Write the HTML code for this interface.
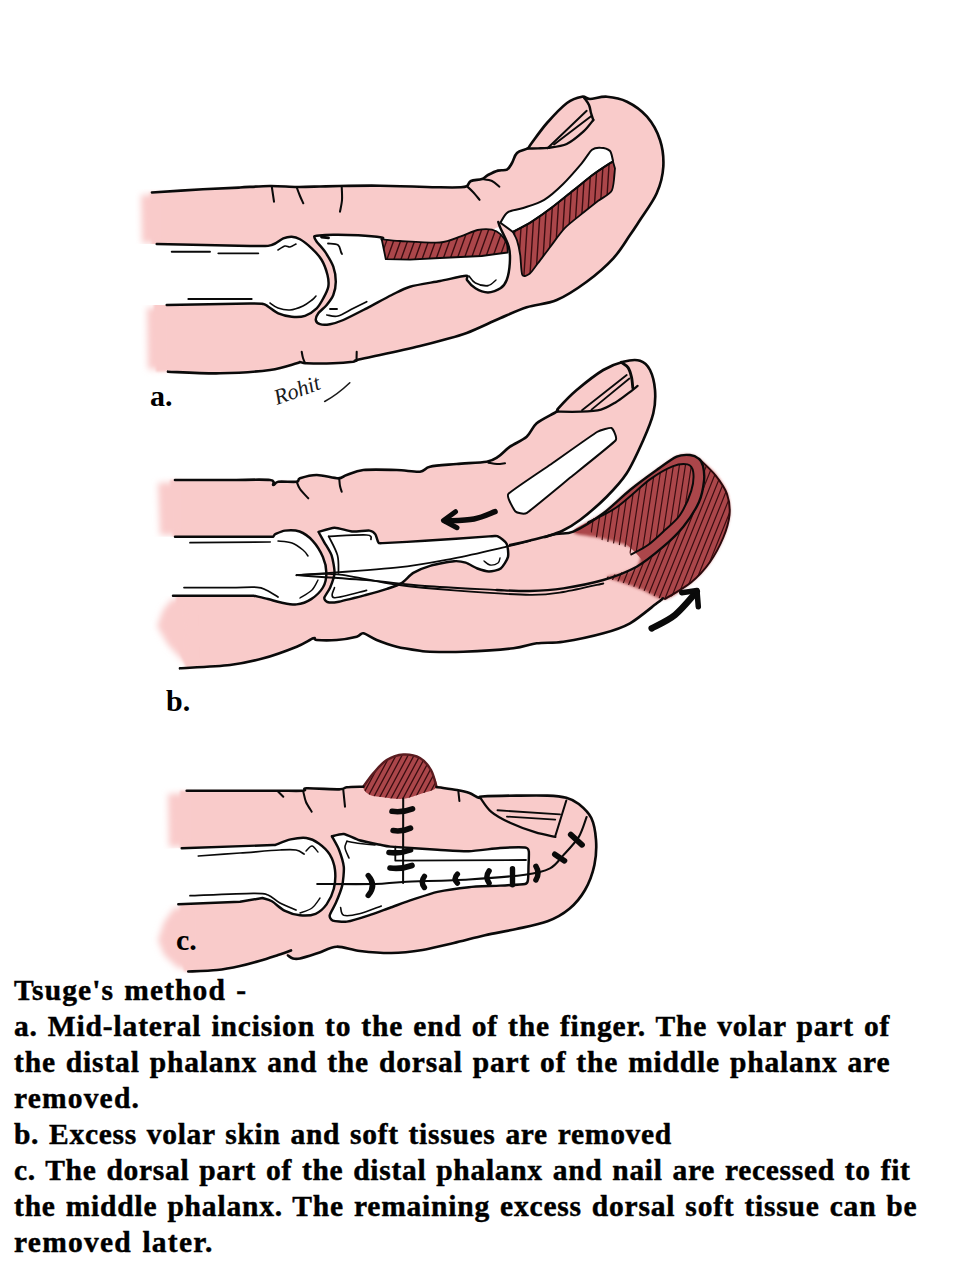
<!DOCTYPE html>
<html lang="en">
<head>
<meta charset="utf-8">
<title>Tsuge's method</title>
<style>
html,body{margin:0;padding:0;background:#fff;}
body{width:960px;height:1280px;position:relative;overflow:hidden;}
#art{position:absolute;left:0;top:0;width:960px;height:1280px;display:block;}
#cap{position:absolute;left:14px;top:972px;width:946px;margin:0;
 font-family:"Liberation Serif","Times New Roman",serif;font-weight:bold;
 font-size:29.5px;line-height:36px;word-spacing:1.8px;color:#000;white-space:nowrap;-webkit-text-stroke:0.45px #000;letter-spacing:0px;}
#cap span{display:block;}
.lbl{font-family:"Liberation Serif","Times New Roman",serif;font-weight:bold;font-size:30px;fill:#000;}
</style>
</head>
<body>
<svg id="art" viewBox="0 0 960 1280" width="960" height="1280">
<!-- ART -->
<defs>
<filter id="soft" x="-10%" y="-10%" width="120%" height="120%"><feGaussianBlur stdDeviation="1.6"/></filter>
<filter id="softp" x="-5%" y="-5%" width="110%" height="110%"><feGaussianBlur stdDeviation="1.3"/></filter>
<filter id="softL" x="-30%" y="-10%" width="160%" height="120%"><feGaussianBlur stdDeviation="3.2"/></filter>
</defs>
<path d="M150 192.5C150.3 192.5 143.2 193 152 192.5C160.8 192 188.3 190.1 203 189.3C217.7 188.5 228.8 188.1 240 187.5C251.2 186.9 260.5 186.1 270 186C279.5 185.9 288.7 186.9 297 187C305.3 187.1 312.8 186.7 320 186.5C327.2 186.3 330 186.1 340 186C350 185.9 363.3 185.5 380 185.7C396.7 185.9 426.5 187 440 187.3C453.5 187.6 456.5 187.5 461 187.3C465.5 187.1 465.3 187.1 467 186C468.7 184.9 468.5 182.2 471 181C473.5 179.8 479.2 180 482 179C484.8 178 485.3 176.4 488 175C490.7 173.6 494.8 171.5 498 170.6C501.2 169.7 504.7 170.9 507 169.6C509.3 168.3 510.3 165.8 512 163C513.7 160.2 514.4 155.4 517 153C519.6 150.6 525.2 150 527.5 148.5C529.8 147 527.8 148.2 531 144C534.2 139.8 541 129.8 547 123C553 116.2 561.2 107.4 567 103C572.8 98.6 578.2 97.4 582 96.7C585.8 96 585.8 99 590 99C594.2 99 600.8 96.2 607 96.7C613.2 97.2 620.3 98.4 627 101.7C633.7 105 641.5 110.3 647 116.7C652.5 123.1 657.3 131.7 660 140C662.7 148.3 663.8 157.8 663.3 166.7C662.8 175.6 660.6 184.4 656.7 193.3C652.8 202.2 644.5 213.1 640 220C635.5 226.9 634.5 228.6 630 235C625.5 241.4 620.5 250.5 613.3 258.3C606.1 266.1 596.1 274.8 586.7 281.7C577.3 288.6 566.7 295.7 556.7 300C546.7 304.3 536.2 304.2 526.7 307.3C517.2 310.4 510 314 500 318.3C490 322.6 476.2 329.4 466.7 333C457.2 336.6 450.8 337.8 443 340C435.2 342.2 430.5 343.5 420 346C409.5 348.5 390.5 352.7 380 355C369.5 357.3 361.5 358.9 357 360C352.5 361.1 357 361.1 353 361.7C349 362.2 340.7 363 333 363.3C325.3 363.6 312.2 363.5 306.7 363.3C301.2 363.1 301.7 362 300 362C298.3 362 301.7 362 296.7 363.3C291.7 364.6 282.8 368.3 270 370C257.2 371.7 237 373 220 373.3C203 373.6 178.7 372 168 371.7C157.3 371.4 158 371.7 156 371.7Z" fill="#f9cbca" stroke="none" filter="url(#softp)"/>
<path d="M141 195L160 194L160 243L142 243Z" fill="#f9cbca" stroke="none" filter="url(#softL)"/>
<path d="M147 308L166 307L166 370L148 369Z" fill="#f9cbca" stroke="none" filter="url(#softL)"/>
<path d="M128 244L156.7 244C170.7 244.3 232.8 245.8 250 246C267.2 246.2 266.7 246.2 271.7 245C276.7 243.8 280.3 239.5 283.3 238.3C286.3 237.1 289.2 236.6 291.7 236.7C294.2 236.8 297 237.5 300 239.2C303 240.9 308.4 245.2 311.7 248.3C315 251.4 319.3 256 321.7 260C324.1 264 326.5 271 327.5 275C328.5 279 328.9 283.2 328.3 286.7C327.7 290.2 325 295.1 323.3 298.3C321.6 301.5 319.4 305.7 316.7 308.3C314 310.9 308.8 314.5 305 315.8C301.2 317.1 295.7 317.1 291.7 316.7C287.7 316.3 281.8 314.8 278.3 313.3C274.8 311.8 270.6 308.1 268.3 306.7C266.1 305.3 266 304.5 263.3 304C260.6 303.5 264.5 303.4 250 303.5C235.5 303.6 179.2 304.8 166.7 305L128 305Z" fill="#fff" stroke="none" />
<path d="M314.2 236.7C314.2 235.9 314 236.1 316.7 235.8C319.4 235.5 327.5 234.8 333.3 234.7C339.1 234.6 351.5 234.9 358.3 235.3C365.1 235.7 375.9 236.7 381.7 237.5C387.5 238.3 391.8 240.3 400 241C408.2 241.7 431.5 243.2 440 242.5C448.5 241.8 455.6 238.1 460.8 236.3C466.1 234.6 473.1 230.9 477.5 230C481.9 229.1 488.8 229.9 492 229.6C495.2 229.3 498 225.6 500.4 228C502.8 230.4 507.5 241.8 508.8 246.7C510.1 251.6 510.1 258.6 509.8 263.3C509.5 268 508 276.5 506.7 280C505.4 283.5 503 286.6 500.4 288.3C497.8 290.1 491.5 292.5 488 292.5C484.5 292.5 478.3 290.1 475.4 288.3C472.5 286.6 468.3 281.8 467 280C465.7 278.2 469.8 275.7 466 275.8C462.2 275.9 447.8 279.5 440 281C432.2 282.5 416.8 284.7 410 286.7C403.2 288.7 397.8 292 391.7 295C385.6 298 373.5 304.8 366.7 308.3C359.9 311.8 348.4 317.8 343.3 320C338.2 322.2 333.3 323.6 330 324.2C326.7 324.8 322 324.8 320 324.2C318 323.6 316 321.5 315.8 320C315.6 318.5 316.8 315.4 318.3 313.3C319.8 311.2 324.6 307.6 326.7 305C328.8 302.4 332 298.3 333.3 295C334.6 291.7 335.8 285.7 335.8 281.7C335.8 277.7 334.8 270.9 333.3 266.7C331.8 262.5 327.3 255.2 325 251.7C322.7 248.2 318.2 243.8 316.7 241.7C315.2 239.6 314.2 237.5 314.2 236.7Z" fill="#fff" stroke="none" />
<path d="M500.4 222.7C501.5 221.1 504.3 214.5 507.7 212.3C511.1 210.1 517.8 209.9 523.3 208C528.8 206.1 538.3 203.4 544.2 199.8C550.1 196.2 557.3 189.7 562.9 184.2C568.5 178.7 577.3 168.5 581.7 163.3C586.1 158.1 589.2 152.1 592 149.8C594.8 147.5 597.7 147.5 600.4 147.7C603.1 147.8 607.9 148.9 609.8 150.8C611.7 152.7 612.4 158.8 612.9 160.2L612.9 161.3C610.1 163.2 600.1 169.4 594.2 173.8C588.3 178.2 579.6 185.4 573.3 190.4C567 195.4 558.7 202.3 552.5 207C546.3 211.7 537.6 217.9 531.7 221.7C525.8 225.4 515.7 230.5 512.9 232Z" fill="#fff" stroke="none" />
<path d="M381.7 239.2C384.1 239.4 392.2 240.6 400 241C407.8 241.4 431.9 243.1 440 242.5C448.1 241.9 455.8 238 460.8 236.3C465.8 234.6 473.3 230.9 477.5 230C481.7 229.1 488.9 229 492 229.6C495.1 230.2 498.4 232.3 500.4 234.2C502.4 236.1 505.7 241.1 506.7 243.5C507.7 245.9 507.6 251.3 507.7 252.5L507.7 252.5L481.7 256L440 258L410 259.7L385.8 259.2Z" fill="#ab464a" stroke="none" />
<clipPath id="hA1"><path d="M381.7 239.2C384.1 239.4 392.2 240.6 400 241C407.8 241.4 431.9 243.1 440 242.5C448.1 241.9 455.8 238 460.8 236.3C465.8 234.6 473.3 230.9 477.5 230C481.7 229.1 488.9 229 492 229.6C495.1 230.2 498.4 232.3 500.4 234.2C502.4 236.1 505.7 241.1 506.7 243.5C507.7 245.9 507.6 251.3 507.7 252.5L507.7 252.5L481.7 256L440 258L410 259.7L385.8 259.2Z"/></clipPath>
<g clip-path="url(#hA1)" stroke="#3a0d10" stroke-width="1.4" stroke-linecap="round" fill="none">
<path d="M372 262L385 226M379 262L392 226M386 262L399 226M393 262L406 226M400 262L413 226M407 262L420 226M414 262L427 226M421 262L434 226M428 262L441 226M435 262L448 226M442 262L455 226M449 262L462 226M456 262L469 226M463 262L476 226M470 262L483 226M477 262L490 226M484 262L497 226M491 262L504 226M498 262L511 226M505 262L518 226M512 262L525 226M519 262L532 226"/>
</g>
<path d="M381.7 239.2C384.1 239.4 392.2 240.6 400 241C407.8 241.4 431.9 243.1 440 242.5C448.1 241.9 455.8 238 460.8 236.3C465.8 234.6 473.3 230.9 477.5 230C481.7 229.1 488.9 229 492 229.6C495.1 230.2 498.4 232.3 500.4 234.2C502.4 236.1 505.7 241.1 506.7 243.5C507.7 245.9 507.6 251.3 507.7 252.5L507.7 252.5L481.7 256L440 258L410 259.7L385.8 259.2Z" fill="none" stroke="#0a0a0a" stroke-width="1.8" stroke-linecap="round" stroke-linejoin="round" />
<path d="M512.9 232C515.7 230.5 525.8 225.4 531.7 221.7C537.6 217.9 546.3 211.7 552.5 207C558.7 202.3 567 195.4 573.3 190.4C579.6 185.4 588.3 178.2 594.2 173.8C600.1 169.4 610.1 163.2 612.9 161.3L615 168.5C614.6 171.4 614.1 186.1 611.9 190.4C609.7 194.7 602 197.9 598.3 200.8C594.6 203.7 588.2 208.7 583.8 212.3C579.4 215.9 569.5 223.3 565 227.9C560.5 232.5 554 242 550.4 246.7C546.8 251.4 540.7 259.7 537.9 263.3C535.1 266.9 531.7 272.3 529.6 273.8C527.5 275.3 523.6 277.3 522.3 274.8C521 272.3 520.9 259.6 520.2 255C519.5 250.4 518 243.5 517 240.4C516 237.3 513.4 233.1 512.9 232Z" fill="#ab464a" stroke="none" />
<clipPath id="hA2"><path d="M512.9 232C515.7 230.5 525.8 225.4 531.7 221.7C537.6 217.9 546.3 211.7 552.5 207C558.7 202.3 567 195.4 573.3 190.4C579.6 185.4 588.3 178.2 594.2 173.8C600.1 169.4 610.1 163.2 612.9 161.3L615 168.5C614.6 171.4 614.1 186.1 611.9 190.4C609.7 194.7 602 197.9 598.3 200.8C594.6 203.7 588.2 208.7 583.8 212.3C579.4 215.9 569.5 223.3 565 227.9C560.5 232.5 554 242 550.4 246.7C546.8 251.4 540.7 259.7 537.9 263.3C535.1 266.9 531.7 272.3 529.6 273.8C527.5 275.3 523.6 277.3 522.3 274.8C521 272.3 520.9 259.6 520.2 255C519.5 250.4 518 243.5 517 240.4C516 237.3 513.4 233.1 512.9 232Z"/></clipPath>
<g clip-path="url(#hA2)" stroke="#3a0d10" stroke-width="1.4" stroke-linecap="round" fill="none">
<path d="M505 290L514 150M511 290L520 150M517 290L526 150M523 290L532 150M529 290L538 150M535 290L544 150M541 290L550 150M547 290L556 150M553 290L562 150M559 290L568 150M565 290L574 150M571 290L580 150M577 290L586 150M583 290L592 150M589 290L598 150M595 290L604 150M601 290L610 150M607 290L616 150M613 290L622 150M619 290L628 150"/>
</g>
<path d="M512.9 232C515.7 230.5 525.8 225.4 531.7 221.7C537.6 217.9 546.3 211.7 552.5 207C558.7 202.3 567 195.4 573.3 190.4C579.6 185.4 588.3 178.2 594.2 173.8C600.1 169.4 610.1 163.2 612.9 161.3L615 168.5C614.6 171.4 614.1 186.1 611.9 190.4C609.7 194.7 602 197.9 598.3 200.8C594.6 203.7 588.2 208.7 583.8 212.3C579.4 215.9 569.5 223.3 565 227.9C560.5 232.5 554 242 550.4 246.7C546.8 251.4 540.7 259.7 537.9 263.3C535.1 266.9 531.7 272.3 529.6 273.8C527.5 275.3 523.6 277.3 522.3 274.8C521 272.3 520.9 259.6 520.2 255C519.5 250.4 518 243.5 517 240.4C516 237.3 513.4 233.1 512.9 232Z" fill="none" stroke="#0a0a0a" stroke-width="1.8" stroke-linecap="round" stroke-linejoin="round" />
<path d="M152 192.5C160.5 192 188.3 190.1 203 189.3C217.7 188.5 228.8 188.1 240 187.5C251.2 186.9 260.5 186.1 270 186C279.5 185.9 288.7 186.9 297 187C305.3 187.1 312.8 186.7 320 186.5C327.2 186.3 330 186.1 340 186C350 185.9 363.3 185.5 380 185.7C396.7 185.9 426.5 187 440 187.3C453.5 187.6 456.5 187.5 461 187.3C465.5 187.1 465.3 187.1 467 186C468.7 184.9 468.5 182.2 471 181C473.5 179.8 479.2 180 482 179C484.8 178 485.3 176.4 488 175C490.7 173.6 494.8 171.5 498 170.6C501.2 169.7 504.7 170.9 507 169.6C509.3 168.3 510.3 165.8 512 163C513.7 160.2 514.4 155.4 517 153C519.6 150.6 525.2 150 527.5 148.5C529.8 147 527.8 148.2 531 144C534.2 139.8 541 129.8 547 123C553 116.2 561.2 107.4 567 103C572.8 98.6 578.2 97.4 582 96.7C585.8 96 585.8 99 590 99C594.2 99 600.8 96.2 607 96.7C613.2 97.2 620.3 98.4 627 101.7C633.7 105 641.5 110.3 647 116.7C652.5 123.1 657.3 131.7 660 140C662.7 148.3 663.8 157.8 663.3 166.7C662.8 175.6 660.6 184.4 656.7 193.3C652.8 202.2 644.5 213.1 640 220C635.5 226.9 634.5 228.6 630 235C625.5 241.4 620.5 250.5 613.3 258.3C606.1 266.1 596.1 274.8 586.7 281.7C577.3 288.6 566.7 295.7 556.7 300C546.7 304.3 536.2 304.2 526.7 307.3C517.2 310.4 510 314 500 318.3C490 322.6 476.2 329.4 466.7 333C457.2 336.6 450.8 337.8 443 340C435.2 342.2 430.5 343.5 420 346C409.5 348.5 390.5 352.7 380 355C369.5 357.3 361.5 358.9 357 360C352.5 361.1 357 361.1 353 361.7C349 362.2 340.7 363 333 363.3C325.3 363.6 312.2 363.5 306.7 363.3C301.2 363.1 301.7 362 300 362C298.3 362 301.7 362 296.7 363.3C291.7 364.6 282.8 368.3 270 370C257.2 371.7 237 373 220 373.3C203 373.6 176.7 372 168 371.7" fill="none" stroke="#0a0a0a" stroke-width="2.65" stroke-linecap="round" stroke-linejoin="round" />
<path d="M156.7 244C170.7 244.3 232.8 245.8 250 246C267.2 246.2 266.7 246.2 271.7 245C276.7 243.8 280.3 239.5 283.3 238.3C286.3 237.1 289.2 236.6 291.7 236.7C294.2 236.8 297 237.5 300 239.2C303 240.9 308.4 245.2 311.7 248.3C315 251.4 319.3 256 321.7 260C324.1 264 326.5 271 327.5 275C328.5 279 328.9 283.2 328.3 286.7C327.7 290.2 325 295.1 323.3 298.3C321.6 301.5 319.4 305.7 316.7 308.3C314 310.9 308.8 314.5 305 315.8C301.2 317.1 295.7 317.1 291.7 316.7C287.7 316.3 281.8 314.8 278.3 313.3C274.8 311.8 270.6 308.1 268.3 306.7C266.1 305.3 266 304.5 263.3 304C260.6 303.5 264.5 303.4 250 303.5C235.5 303.6 179.2 304.8 166.7 305" fill="none" stroke="#0a0a0a" stroke-width="2.45" stroke-linecap="round" stroke-linejoin="round" />
<path d="M171.7 251.7L210 251.7" fill="none" stroke="#0a0a0a" stroke-width="1.85" stroke-linecap="round" stroke-linejoin="round" />
<path d="M218.3 253.3L258.3 253.3" fill="none" stroke="#0a0a0a" stroke-width="1.85" stroke-linecap="round" stroke-linejoin="round" />
<path d="M188.3 299L251.7 299" fill="none" stroke="#0a0a0a" stroke-width="1.85" stroke-linecap="round" stroke-linejoin="round" />
<path d="M278 250C279.2 249.3 283 246.5 285 246C287 245.5 288.2 247.3 290 247C291.8 246.7 295 244.5 296 244" fill="none" stroke="#0a0a0a" stroke-width="1.6" stroke-linecap="round" stroke-linejoin="round" />
<path d="M270 303C271.3 303.8 274.7 306.8 278 308C281.3 309.2 285.8 310.3 290 310C294.2 309.7 299.3 307.7 303 306C306.7 304.3 309.8 301.7 312 300C314.2 298.3 315.3 296.7 316 296" fill="none" stroke="#0a0a0a" stroke-width="1.6" stroke-linecap="round" stroke-linejoin="round" />
<path d="M381.7 239.2C381.7 239 385 238 381.7 237.5C378.4 237 365.1 235.7 358.3 235.3C351.5 234.9 339.1 234.6 333.3 234.7C327.5 234.8 319.4 235.5 316.7 235.8C314 236.1 314.2 235.9 314.2 236.7C314.2 237.5 315.2 239.6 316.7 241.7C318.2 243.8 322.7 248.2 325 251.7C327.3 255.2 331.8 262.5 333.3 266.7C334.8 270.9 335.8 277.7 335.8 281.7C335.8 285.7 334.6 291.7 333.3 295C332 298.3 328.8 302.4 326.7 305C324.6 307.6 319.8 311.2 318.3 313.3C316.8 315.4 315.6 318.5 315.8 320C316 321.5 318 323.6 320 324.2C322 324.8 326.7 324.8 330 324.2C333.3 323.6 338.2 322.2 343.3 320C348.4 317.8 359.9 311.8 366.7 308.3C373.5 304.8 385.6 298 391.7 295C397.8 292 403.2 288.7 410 286.7C416.8 284.7 432.2 282.5 440 281C447.8 279.5 462.2 275.9 466 275.8C469.8 275.7 465.7 278.2 467 280C468.3 281.8 472.5 286.6 475.4 288.3C478.3 290.1 484.5 292.5 488 292.5C491.5 292.5 497.8 290.1 500.4 288.3C503 286.6 505.4 283.5 506.7 280C508 276.5 509.5 268 509.8 263.3C510.1 258.6 510.1 251.6 508.8 246.7C507.5 241.8 501.9 231.5 500.4 228C498.9 224.5 498.6 222.8 498.3 222" fill="none" stroke="#0a0a0a" stroke-width="2.45" stroke-linecap="round" stroke-linejoin="round" />
<path d="M321.5 237L328.5 237.8" fill="none" stroke="#0a0a0a" stroke-width="2.85" stroke-linecap="round" stroke-linejoin="round" />
<path d="M328 243.5C329.7 243.8 335.8 243.6 338 245C340.2 246.4 340.3 250.5 341 252C341.7 253.5 341.8 253.7 342 254" fill="none" stroke="#0a0a0a" stroke-width="1.85" stroke-linecap="round" stroke-linejoin="round" />
<path d="M330 309L337 309" fill="none" stroke="#0a0a0a" stroke-width="1.85" stroke-linecap="round" stroke-linejoin="round" />
<path d="M327 315C328.8 315.2 333.7 317.1 338 316C342.3 314.9 348.2 310.9 353 308.5C357.8 306.1 364.4 302.8 366.7 301.7" fill="none" stroke="#0a0a0a" stroke-width="1.75" stroke-linecap="round" stroke-linejoin="round" />
<path d="M469 276C470.1 277.2 472.2 281.4 475.4 283C478.6 284.6 484.6 286 488 285.5C491.4 285 494.7 280.9 496 280" fill="none" stroke="#0a0a0a" stroke-width="1.5" stroke-linecap="round" stroke-linejoin="round" />
<path d="M480.5 285.3L488 285.8" fill="none" stroke="#0a0a0a" stroke-width="1.4" stroke-linecap="round" stroke-linejoin="round" />
<path d="M500.4 222.7C501.5 221.1 504.3 214.5 507.7 212.3C511.1 210.1 517.8 209.9 523.3 208C528.8 206.1 538.3 203.4 544.2 199.8C550.1 196.2 557.3 189.7 562.9 184.2C568.5 178.7 577.3 168.5 581.7 163.3C586.1 158.1 589.2 152.1 592 149.8C594.8 147.5 597.7 147.5 600.4 147.7C603.1 147.8 607.9 148.9 609.8 150.8C611.7 152.7 612.4 158.8 612.9 160.2L612.9 161.3C610.1 163.2 600.1 169.4 594.2 173.8C588.3 178.2 579.6 185.4 573.3 190.4C567 195.4 558.7 202.3 552.5 207C546.3 211.7 537.6 217.9 531.7 221.7C525.8 225.4 515.7 230.5 512.9 232Z" fill="none" stroke="#0a0a0a" stroke-width="2" stroke-linecap="round" stroke-linejoin="round" />
<path d="M271.7 186L274 201.7" fill="none" stroke="#0a0a0a" stroke-width="2.05" stroke-linecap="round" stroke-linejoin="round" />
<path d="M296.7 187.3C297.2 188.8 298.9 193.3 300 196C301.1 198.7 302.8 202.1 303.3 203.3" fill="none" stroke="#0a0a0a" stroke-width="2.05" stroke-linecap="round" stroke-linejoin="round" />
<path d="M341.7 186.7C341.8 188.9 342.3 195.8 342 200C341.7 204.2 340.3 209.8 340 211.7" fill="none" stroke="#0a0a0a" stroke-width="2.05" stroke-linecap="round" stroke-linejoin="round" />
<path d="M467 186.3C468 187.2 470.9 189.8 473 192C475.1 194.2 478.5 198.5 479.6 199.8" fill="none" stroke="#0a0a0a" stroke-width="2.05" stroke-linecap="round" stroke-linejoin="round" />
<path d="M482 179C483.7 179.3 489.1 179.7 492 181C494.9 182.3 498.2 185.8 499.4 186.7" fill="none" stroke="#0a0a0a" stroke-width="2.05" stroke-linecap="round" stroke-linejoin="round" />
<path d="M301.7 351.7C301.9 352.8 302.4 356.1 303 358C303.6 359.9 304.7 362.4 305 363.3" fill="none" stroke="#0a0a0a" stroke-width="2.05" stroke-linecap="round" stroke-linejoin="round" />
<path d="M356.7 351.7L356.5 361" fill="none" stroke="#0a0a0a" stroke-width="2.05" stroke-linecap="round" stroke-linejoin="round" />
<path d="M527.5 148.5C529.1 148.5 534.9 148.4 538 148.3C541.1 148.2 544 148.4 548.3 147.8C552.6 147.2 561.5 146.4 566.7 144C572 141.6 579.3 135.3 583.3 131.7C587.3 128.1 591.8 121.8 593.3 120" fill="none" stroke="#0a0a0a" stroke-width="2.35" stroke-linecap="round" stroke-linejoin="round" />
<path d="M584 97.5C584.8 98.8 587.8 102.4 589 105C590.2 107.6 590.3 110.5 591 113C591.7 115.5 592.9 118.8 593.3 120" fill="none" stroke="#0a0a0a" stroke-width="2.45" stroke-linecap="round" stroke-linejoin="round" />
<path d="M547.5 148.3L586.7 110.8" fill="none" stroke="#0a0a0a" stroke-width="1.95" stroke-linecap="round" stroke-linejoin="round" />
<path d="M554 144.5L591.7 115.8" fill="none" stroke="#0a0a0a" stroke-width="1.95" stroke-linecap="round" stroke-linejoin="round" />
<text class="lbl" x="150" y="406">a.</text>
<g transform="translate(277,405) rotate(-20)"><text x="0" y="0" font-family="'Liberation Serif',serif" font-style="italic" font-size="22" fill="#1a1a1a">Rohit</text><path d="M46 13Q60 11 76 4" stroke="#1a1a1a" stroke-width="1.6" fill="none" stroke-linecap="round"/></g>
<path d="M170 480C170.8 480 166 480 175 480C184 480 215.8 480 230 480C244.2 480 263.5 479.2 270 480C276.5 480.8 272.1 484.7 273.3 485C274.5 485.3 274.8 482.2 278.3 481.7C281.8 481.2 293.4 482.2 296.7 481.7C300 481.2 297 479.3 300 478.3C303 477.3 311 475 316.7 475C322.4 475 333.8 478.3 338.3 478.3C342.8 478.3 342.9 476.2 346.7 475C350.4 473.8 355.8 470.8 363.3 470C370.8 469.2 388.2 469.7 396.7 470C405.2 470.3 415 472.2 420 471.7C425 471.2 424.5 467.9 430 466.7C435.5 465.5 448.2 464.8 456.7 464C465.2 463.2 480.5 462.8 486.7 461.7C492.9 460.6 494.8 458.9 498.3 456.7C501.8 454.4 505.7 449.7 510 446.7C514.3 443.7 522.7 440.2 526.7 436.7C530.7 433.2 532.2 427.1 536.7 423.3C541.2 419.6 553.5 413.9 556.7 411.7C559.9 409.4 555.3 411.6 558.3 408.3C561.3 405 570 395.7 576.7 390C583.5 384.3 596.3 374.2 603.3 370C610.3 365.8 617.8 363.1 623.3 361.7C628.8 360.3 636 359.5 640 360.7C644 361.9 647.8 365.6 650 370C652.2 374.4 654.5 383.5 655 390C655.5 396.5 655.1 405.8 653.3 413.3C651.5 420.8 647.3 431 643.3 440C639.3 449 632.2 464.8 626.7 473.3C621.2 481.8 613.7 489.7 606.7 496.7C599.7 503.7 586.7 514.6 580 520C573.3 525.4 563 531.2 562 533C561 534.8 567.1 534.7 573.3 531.7C579.5 528.7 594.8 519.6 603.3 513.3C611.8 507 622 496.5 630 490C638 483.5 649.7 475 656.7 470C663.7 465 671.2 458.7 676.7 456.7C682.2 454.7 687.8 454.7 693.3 456.7C698.8 458.7 708.3 465 713.3 470C718.3 475 724.2 484 726.7 490C729.2 496 730.5 503.5 730 510C729.5 516.5 726.8 524.8 723.3 533.3C719.8 541.8 712.7 558.7 706.7 566.7C700.7 574.7 690.3 582 683.3 586.7C676.3 591.4 663 596.6 660 598.3C657 600 663.5 597.5 663 598.3C662.5 599 661.7 599.5 656.7 603.3C651.8 607 638 618.8 630 623.3C622 627.8 613.3 630.5 603.3 633.3C593.3 636.1 573.3 640.2 563.3 641.7C553.3 643.2 544.2 642.3 536.7 643.3C529.2 644.3 524.3 647 513.3 648.3C502.3 649.6 475.8 651.2 463.3 651.7C450.8 652.2 436.5 651.9 430 651.7C423.5 651.6 425 651.5 420 650.7C415 650 403.2 648.3 396.7 646.7C390.2 645.1 381.7 642 376.7 640C371.7 638 366.3 633.8 363.3 633.3C360.3 632.8 360.7 635.7 356.7 636.7C352.7 637.7 342.7 639.5 336.7 640C330.7 640.5 320.2 640.3 316.7 640C313.2 639.7 316.3 637.3 313.3 638.3C310.3 639.3 304.2 643.7 296.7 646.7C289.2 649.7 273.3 655.6 263.3 658.3C253.3 661 242.5 663.5 230 665C217.5 666.5 186.6 667.8 180 668.3C173.4 668.8 185.1 668.3 186 668.3L176 640L176 600Z" fill="#f9cbca" stroke="none" filter="url(#softp)"/>
<path d="M158 483L180 482L180 535L160 535Z" fill="#f9cbca" stroke="none" filter="url(#softL)"/>
<path d="M172 599L190 599L192 664L184 662L168 645L157 626L163 610Z" fill="#f9cbca" stroke="none" filter="url(#softL)"/>
<path d="M148 536.7L273.3 536.7L274.8 534.4C276.3 533.8 281.3 531 285 530.6C288.7 530.2 295.4 530 299.6 531.5C303.8 533 309.2 537 312.7 540.8C316.2 544.6 320.8 552.1 322.9 556.9C325 561.7 326.4 568.3 326.4 572.9C326.4 577.5 325.2 583.6 322.9 587.5C320.6 591.4 315.1 596.6 311.2 599.1C307.3 601.6 301.1 603.9 296.6 604.4C292.1 604.9 285.3 603.3 281 602.5C276.7 601.7 272.1 600 268 599C263.9 598 255.8 596.2 253.7 595.7L148 595.7Z" fill="#fff" stroke="none" />
<path d="M318.5 532C319.7 530.3 330.6 527.8 334.5 527.7C338.4 527.6 347.9 531.2 352 531.5C356.1 531.8 366.8 530.3 369.5 530.6C372.2 530.9 374.4 533 375.4 534.4C376.4 535.8 377.4 541.3 378.3 542.3C379.2 543.3 377.3 543.3 382.7 543.1C388.1 542.9 412.5 541.6 424.9 540.8C437.3 540 480.5 536.9 489 536.4C497.5 535.9 495.7 535.5 497.8 536.4C499.9 537.3 505.4 541.3 506.6 543.7C507.8 546.1 508.7 554 508 556.9C507.3 559.8 502.9 566.8 500.7 568.5C498.5 570.2 491.7 571.4 489 571.4C486.3 571.4 480.1 569.5 477.4 568.5C474.7 567.5 468.4 563.6 465.7 562.7C463 561.8 458.2 560.9 454.1 561.2C450 561.5 435.6 564.2 430.8 565.6C426 567 416.7 570.9 413.3 572.9C409.9 574.9 404.7 581.2 401.6 583.1C398.5 585 391.1 587.5 387 588.9C382.9 590.3 372.4 593.3 366.6 594.8C360.8 596.3 342.1 601.2 337.5 602C332.9 602.8 328.8 602.5 327.3 602C325.8 601.5 324 599.4 324.3 597.7C324.6 596 329 590.4 330.2 587.5C331.4 584.6 334.3 576.6 334.5 572.9C334.7 569.2 332.8 559 331.6 555.4C330.4 551.8 325.8 545 324.3 542.3C322.8 539.6 317.3 533.7 318.5 532Z" fill="#fff" stroke="none" />
<path d="M508.3 494C510.5 491.1 546.7 467.2 552 463.5C557.3 459.8 593.4 434.1 597 432C600.6 429.9 610.4 427.5 611.5 428C612.6 428.5 617.9 437.6 615.5 440.5C613.1 443.4 576.3 472.7 571 477C565.7 481.3 530.3 510.7 527 512.8C523.7 514.9 516.6 512.6 515.5 511.5C514.4 510.4 506.1 496.9 508.3 494Z" fill="#fff" stroke="none" />
<path d="M573.3 531.7C574.1 528.5 595.7 518.9 603.3 513.3C610.9 507.7 622.9 495.8 630 490C637.1 484.2 650.5 474.4 656.7 470C662.9 465.6 672.3 458.7 676.7 456.7C681.1 454.7 687 454.7 690 455C693 455.3 695.6 456.1 699 458.8C702.4 461.5 712 470.9 715.7 475.6C719.4 480.3 725.2 488.7 727 494C728.8 499.3 730 509.2 729.5 515C729 520.8 725.9 531.2 723.3 537.5C720.7 543.8 714.3 556 710 562C705.7 568 697 577.6 691 582.5C685 587.4 671.5 598 665 599C658.5 600 648.2 592.2 642.5 590C636.8 587.8 626.7 584.2 622 582.5C617.3 580.8 607.3 578.1 607 577C606.7 575.9 616 575.4 620 574C624 572.6 634 569.4 636.7 566.7C639.4 564 641.5 556.9 640 554C638.5 551.1 631.3 547.2 625.6 545C619.9 542.8 604.5 539.3 597.5 537.5C590.5 535.7 572.5 534.9 573.3 531.7Z" fill="#ab464a" stroke="none" filter="url(#soft)"/>
<path d="M573.3 531.7C572.1 528.9 595.7 518.9 603.3 513.3C610.9 507.7 622.9 495.8 630 490C637.1 484.2 650.5 474.4 656.7 470C662.9 465.6 672.3 458.7 676.7 456.7C681.1 454.7 687 454.7 690 455C693 455.3 695.6 456.1 699 458.8C702.4 461.5 712 470.9 715.7 475.6C719.4 480.3 725.2 488.7 727 494C728.8 499.3 730 509.2 729.5 515C729 520.8 725.9 531.2 723.3 537.5C720.7 543.8 714.3 556 710 562C705.7 568 697 577.6 691 582.5C685 587.4 670.2 598.5 665 599C659.8 599.5 655.1 591.2 652 586C648.9 580.8 647.3 566.9 642 560C636.7 553.1 621.2 537.8 612 534C602.8 530.2 574.5 534.5 573.3 531.7Z" fill="#ab464a" stroke="none" />
<clipPath id="hB1"><path d="M588 522.5C590.5 518.4 608 513.2 616.3 507.5C624.6 501.8 642.5 484.9 650 479.4C657.5 473.9 667.5 468.3 672.5 466.3C677.5 464.3 684.7 463.7 687.5 464.4C690.3 465.1 692.7 468.4 693.2 471.9C693.7 475.4 693.1 484.9 691.3 490.6C689.5 496.3 683.5 509.7 680 515C676.5 520.3 669.3 526 665 530C660.7 534 652.5 541.7 648 545C643.5 548.3 634.3 554.1 631.3 554.4C628.3 554.7 630.1 549.2 625.6 547C621.1 544.8 602.5 541.3 597.5 538C592.5 534.7 585.5 526.6 588 522.5Z"/></clipPath>
<g clip-path="url(#hB1)" stroke="#3a0d10" stroke-width="1.2" stroke-linecap="round" fill="none">
<path d="M575 560L591 455M581 560L597 455M587 560L603 455M593 560L609 455M599 560L615 455M605 560L621 455M611 560L627 455M617 560L633 455M623 560L639 455M629 560L645 455M635 560L651 455M641 560L657 455M647 560L663 455M653 560L669 455M659 560L675 455M665 560L681 455M671 560L687 455M677 560L693 455M683 560L699 455M689 560L705 455M695 560L711 455"/>
</g>
<clipPath id="hB2"><path d="M699 458.8C700.6 460.1 712 470.9 715.7 475.6C719.4 480.3 725.2 488.7 727 494C728.8 499.3 730 509.2 729.5 515C729 520.8 725.9 531.2 723.3 537.5C720.7 543.8 714.3 556 710 562C705.7 568 697 577.6 691 582.5C685 587.4 671.5 598 665 599C658.5 600 648.2 592.2 642.5 590C636.8 587.8 626.7 584.2 622 582.5C617.3 580.8 605 579 607 577C609 575 629.2 571.4 636.7 567.5C644.2 563.6 657.1 553.3 663.3 548C669.5 542.7 678.5 534.1 683.3 528C688.1 521.9 696.6 508.3 699.5 502C702.4 495.7 704.4 485.8 705 481C705.6 476.2 704.8 469 704 466C703.2 463 697.4 457.5 699 458.8Z"/></clipPath>
<g clip-path="url(#hB2)" stroke="#3a0d10" stroke-width="1.2" stroke-linecap="round" fill="none">
<path d="M590 606L652 452M596 606L658 452M602 606L664 452M608 606L670 452M614 606L676 452M620 606L682 452M626 606L688 452M632 606L694 452M638 606L700 452M644 606L706 452M650 606L712 452M656 606L718 452M662 606L724 452M668 606L730 452M674 606L736 452M680 606L742 452M686 606L748 452M692 606L754 452M698 606L760 452"/>
</g>
<path d="M175 480C183.2 480 215.8 480 230 480C244.2 480 263.5 479.2 270 480C276.5 480.8 272.1 484.7 273.3 485C274.5 485.3 274.8 482.2 278.3 481.7C281.8 481.2 293.4 482.2 296.7 481.7C300 481.2 297 479.3 300 478.3C303 477.3 311 475 316.7 475C322.4 475 333.8 478.3 338.3 478.3C342.8 478.3 342.9 476.2 346.7 475C350.4 473.8 355.8 470.8 363.3 470C370.8 469.2 388.2 469.7 396.7 470C405.2 470.3 415 472.2 420 471.7C425 471.2 424.5 467.9 430 466.7C435.5 465.5 448.2 464.8 456.7 464C465.2 463.2 480.5 462.8 486.7 461.7C492.9 460.6 494.8 458.9 498.3 456.7C501.8 454.4 505.7 449.7 510 446.7C514.3 443.7 522.7 440.2 526.7 436.7C530.7 433.2 532.2 427.1 536.7 423.3C541.2 419.6 553.5 413.9 556.7 411.7C559.9 409.4 555.3 411.6 558.3 408.3C561.3 405 570 395.7 576.7 390C583.5 384.3 596.3 374.2 603.3 370C610.3 365.8 617.8 363.1 623.3 361.7C628.8 360.3 636 359.5 640 360.7C644 361.9 647.8 365.6 650 370C652.2 374.4 654.5 383.5 655 390C655.5 396.5 655.1 405.8 653.3 413.3C651.5 420.8 647.3 431 643.3 440C639.3 449 632.2 464.8 626.7 473.3C621.2 481.8 613.7 489.7 606.7 496.7C599.7 503.7 586.7 514.9 580 520C573.3 525.1 567.2 528.5 562 531C556.8 533.5 547.5 536.1 545 537" fill="none" stroke="#0a0a0a" stroke-width="2.65" stroke-linecap="round" stroke-linejoin="round" />
<path d="M699 458.8C701.5 461.3 711.5 470.3 715.7 475.6C719.9 480.9 724.9 488.1 727 494C729.1 499.9 730.1 508.5 729.5 515C728.9 521.5 726.2 530.5 723.3 537.5C720.4 544.5 714.8 555.2 710 562C705.2 568.8 697.8 577 691 582.5C684.2 588 668.9 596.5 665 599" fill="none" stroke="#2a0a0c" stroke-width="1.95" stroke-linecap="round" stroke-linejoin="round" />
<path d="M663 598.3C662.1 599 661.7 599.5 656.7 603.3C651.8 607 638 618.8 630 623.3C622 627.8 613.3 630.5 603.3 633.3C593.3 636.1 573.3 640.2 563.3 641.7C553.3 643.2 544.2 642.3 536.7 643.3C529.2 644.3 524.3 647 513.3 648.3C502.3 649.6 475.8 651.2 463.3 651.7C450.8 652.2 436.5 651.9 430 651.7C423.5 651.6 425 651.5 420 650.7C415 650 403.2 648.3 396.7 646.7C390.2 645.1 381.7 642 376.7 640C371.7 638 366.3 633.8 363.3 633.3C360.3 632.8 360.7 635.7 356.7 636.7C352.7 637.7 342.7 639.5 336.7 640C330.7 640.5 320.2 640.3 316.7 640C313.2 639.7 316.3 637.3 313.3 638.3C310.3 639.3 304.2 643.7 296.7 646.7C289.2 649.7 273.3 655.6 263.3 658.3C253.3 661 242.5 663.5 230 665C217.5 666.5 187.5 667.8 180 668.3" fill="none" stroke="#0a0a0a" stroke-width="2.65" stroke-linecap="round" stroke-linejoin="round" />
<path d="M510 545C513 544.3 523.1 542.1 530 540.5C536.9 538.9 549.5 535.3 556 534C562.5 532.7 566.2 534.8 573.3 531.7C580.4 528.6 594.8 519.6 603.3 513.3C611.8 507 622 496.5 630 490C638 483.5 649.7 475 656.7 470C663.7 465 671.7 458.9 676.7 456.7C681.7 454.4 686.7 454.7 690 455C693.3 455.3 697 457.2 699 458.8C701 460.4 702.2 462.7 703 466C703.8 469.3 704.6 475.6 704 481C703.4 486.4 702.1 495.1 699 502C695.9 508.9 688.7 520 683.3 526.7C677.9 533.4 670.3 540.7 663.3 546.7C656.3 552.7 645.7 561.7 636.7 566.7C627.7 571.7 614.3 576.8 603.3 580C592.3 583.2 574.3 586.6 563.3 588.3C552.3 589.9 540 590.7 530 591C520 591.3 501.7 590.1 496.7 590" fill="none" stroke="#0a0a0a" stroke-width="2.35" stroke-linecap="round" stroke-linejoin="round" />
<path d="M588 522.5C592.2 520.2 607 514 616.3 507.5C625.6 501 641.6 485.6 650 479.4C658.4 473.2 666.9 468.6 672.5 466.3C678.1 464.1 684.4 463.6 687.5 464.4C690.6 465.2 692.6 468 693.2 471.9C693.8 475.8 693.3 484.1 691.3 490.6C689.3 497.1 683.9 509.1 680 515C676.1 520.9 669.8 525.5 665 530C660.2 534.5 653.1 541.3 648 545C642.9 548.7 633.8 553 631.3 554.4" fill="none" stroke="#0a0a0a" stroke-width="1.95" stroke-linecap="round" stroke-linejoin="round" />
<path d="M296.6 575.2C302.7 575.1 322.6 572.9 337.5 574.3C352.4 575.7 378.3 582.1 395.8 584.5C413.3 586.9 433.9 588.9 454 590.4C474.1 591.9 513.6 594.6 530 594.8C546.4 595 552.3 593.7 563.3 592C574.3 590.3 597.3 584.8 603.3 583.5" fill="none" stroke="#0a0a0a" stroke-width="1.85" stroke-linecap="round" stroke-linejoin="round" />
<path d="M296.6 575.2C308.3 576 345.2 578.4 366.6 580.2C388 582 403.2 584.4 424.9 586C446.6 587.6 484.7 589.3 496.7 590" fill="none" stroke="#0a0a0a" stroke-width="1.85" stroke-linecap="round" stroke-linejoin="round" />
<path d="M296.6 575.2C313.1 573.9 369.6 570.4 395.8 567.6C422 564.8 435.5 561.8 454 558.3C472.5 554.8 493.9 549.5 506.6 546.6C519.3 543.7 526.1 541.8 530 540.8" fill="none" stroke="#0a0a0a" stroke-width="1.85" stroke-linecap="round" stroke-linejoin="round" />
<path d="M175 536.7L273.3 536.7L274.8 534.4C276.3 533.8 281.3 531 285 530.6C288.7 530.2 295.4 530 299.6 531.5C303.8 533 309.2 537 312.7 540.8C316.2 544.6 320.8 552.1 322.9 556.9C325 561.7 326.4 568.3 326.4 572.9C326.4 577.5 325.2 583.6 322.9 587.5C320.6 591.4 315.1 596.6 311.2 599.1C307.3 601.6 301.1 603.9 296.6 604.4C292.1 604.9 285.3 603.3 281 602.5C276.7 601.7 272.1 600 268 599C263.9 598 255.8 596.2 253.7 595.7L173 595.7" fill="none" stroke="#0a0a0a" stroke-width="2.45" stroke-linecap="round" stroke-linejoin="round" />
<path d="M190 542.7L270 542" fill="none" stroke="#0a0a0a" stroke-width="1.75" stroke-linecap="round" stroke-linejoin="round" />
<path d="M278 541C280.3 541.3 287.8 541.5 292 543C296.2 544.5 300.3 547.8 303 550C305.7 552.2 307.2 555 308 556" fill="none" stroke="#0a0a0a" stroke-width="1.5" stroke-linecap="round" stroke-linejoin="round" />
<path d="M184 587.5C191.7 587.5 217.8 587.5 230 587.5C242.2 587.5 251 586.9 257 587.3C263 587.7 262.5 588.4 266 590C269.5 591.6 276 595.8 278 597" fill="none" stroke="#0a0a0a" stroke-width="1.75" stroke-linecap="round" stroke-linejoin="round" />
<path d="M300 598C302 596.7 309 593 312 590C315 587 317 581.7 318 580" fill="none" stroke="#0a0a0a" stroke-width="1.4" stroke-linecap="round" stroke-linejoin="round" />
<path d="M318.5 532C320.4 531.5 330.6 527.8 334.5 527.7C338.4 527.6 347.9 531.2 352 531.5C356.1 531.8 366.8 530.3 369.5 530.6C372.2 530.9 374.4 533 375.4 534.4C376.4 535.8 377.4 541.3 378.3 542.3C379.2 543.3 377.3 543.3 382.7 543.1C388.1 542.9 412.5 541.6 424.9 540.8C437.3 540 480.5 536.9 489 536.4C497.5 535.9 495.7 535.5 497.8 536.4C499.9 537.3 505.4 541.3 506.6 543.7C507.8 546.1 508.7 554 508 556.9C507.3 559.8 502.9 566.8 500.7 568.5C498.5 570.2 491.7 571.4 489 571.4C486.3 571.4 480.1 569.5 477.4 568.5C474.7 567.5 468.4 563.6 465.7 562.7C463 561.8 458.2 560.9 454.1 561.2C450 561.5 435.6 564.2 430.8 565.6C426 567 416.7 570.9 413.3 572.9C409.9 574.9 404.7 581.2 401.6 583.1C398.5 585 391.1 587.5 387 588.9C382.9 590.3 372.4 593.3 366.6 594.8C360.8 596.3 342.1 601.2 337.5 602C332.9 602.8 328.8 602.5 327.3 602C325.8 601.5 324 599.4 324.3 597.7C324.6 596 329 590.4 330.2 587.5C331.4 584.6 334.3 576.6 334.5 572.9C334.7 569.2 332.8 559 331.6 555.4C330.4 551.8 325.8 545 324.3 542.3C322.8 539.6 319.2 533.2 318.5 532" fill="none" stroke="#0a0a0a" stroke-width="2.45" stroke-linecap="round" stroke-linejoin="round" />
<path d="M328.7 536.4C335 536.2 359.6 534.5 366.6 535C373.7 535.5 370.3 538.7 371 539.4" fill="none" stroke="#0a0a0a" stroke-width="1.75" stroke-linecap="round" stroke-linejoin="round" />
<path d="M328.7 536.4C330.2 539.6 335.9 549.3 337.5 555.4C339.1 561.5 338.3 570.1 338.5 573" fill="none" stroke="#0a0a0a" stroke-width="1.75" stroke-linecap="round" stroke-linejoin="round" />
<path d="M334.5 587.5C334.5 589.2 329.1 597.2 334.5 597.7C339.9 598.2 361.2 591.6 366.6 590.4" fill="none" stroke="#0a0a0a" stroke-width="1.6" stroke-linecap="round" stroke-linejoin="round" />
<path d="M484 561C485 561.7 487.7 564.7 490 565C492.3 565.3 496.3 564.2 498 563C499.7 561.8 499.7 558.8 500 558" fill="none" stroke="#0a0a0a" stroke-width="1.4" stroke-linecap="round" stroke-linejoin="round" />
<path d="M508.3 494C510.5 491.1 546.7 467.2 552 463.5C557.3 459.8 593.4 434.1 597 432C600.6 429.9 610.4 427.5 611.5 428C612.6 428.5 617.9 437.6 615.5 440.5C613.1 443.4 576.3 472.7 571 477C565.7 481.3 530.3 510.7 527 512.8C523.7 514.9 516.6 512.6 515.5 511.5C514.4 510.4 506.1 496.9 508.3 494Z" fill="none" stroke="#0a0a0a" stroke-width="2" stroke-linecap="round" stroke-linejoin="round" />
<path d="M296.7 481.7C297.2 482.9 298.1 486.2 300 489C301.9 491.8 306.9 496.8 308.3 498.3" fill="none" stroke="#0a0a0a" stroke-width="2.05" stroke-linecap="round" stroke-linejoin="round" />
<path d="M339.3 479.3C339.4 480.4 339.6 483.9 340 486C340.4 488.1 341.4 490.8 341.7 491.7" fill="none" stroke="#0a0a0a" stroke-width="2.05" stroke-linecap="round" stroke-linejoin="round" />
<path d="M488.3 462.7C489.8 462.9 494.2 463.9 497 464C499.8 464.1 503.7 463.4 505 463.3" fill="none" stroke="#0a0a0a" stroke-width="2.05" stroke-linecap="round" stroke-linejoin="round" />
<path d="M556.3 411.7C560 411.7 574 412 580.7 411.7C587.4 411.4 595.7 411 601 409.6C606.3 408.2 611.8 404.6 615.9 402.2C620 399.8 624.8 395.8 628.1 393.4C631.4 391 636.2 387 637.6 385.9" fill="none" stroke="#0a0a0a" stroke-width="2.25" stroke-linecap="round" stroke-linejoin="round" />
<path d="M621.3 362.2C622.4 363.1 626.4 365.1 628.1 367.6C629.8 370.1 630.7 373.7 631.5 377.1C632.3 380.5 632.6 386.1 632.8 387.9" fill="none" stroke="#0a0a0a" stroke-width="2.85" stroke-linecap="round" stroke-linejoin="round" />
<path d="M582 410.3L626.7 375" fill="none" stroke="#0a0a0a" stroke-width="1.85" stroke-linecap="round" stroke-linejoin="round" />
<path d="M591.5 409.6L629.4 378.5" fill="none" stroke="#0a0a0a" stroke-width="1.85" stroke-linecap="round" stroke-linejoin="round" />
<path d="M495 511.7C491.5 512.9 482.2 517.5 474 519C465.8 520.5 450.7 520.7 446 521" fill="none" stroke="#0a0a0a" stroke-width="5.6" stroke-linecap="round" stroke-linejoin="round" />
<path d="M455.5 511.7L443.5 520.5L457 527.7" fill="none" stroke="#0a0a0a" stroke-width="5" stroke-linecap="round" stroke-linejoin="round" />
<path d="M651.7 628.3C655.6 626.1 667.5 621.1 675 615C682.5 608.9 693.1 595.6 696.7 591.7" fill="none" stroke="#0a0a0a" stroke-width="6.5" stroke-linecap="round" stroke-linejoin="round" />
<path d="M681.7 592.7L697 590.5L698.3 606.7" fill="none" stroke="#0a0a0a" stroke-width="5.5" stroke-linecap="round" stroke-linejoin="round" />
<text class="lbl" x="166" y="711">b.</text>
<path d="M180 790.7C181 790.7 179.2 790.7 186.7 790.7C194.2 790.7 216.5 790.7 230 790.7C243.5 790.7 265.7 790.7 276.7 790.7C287.7 790.7 298.8 791.1 303.3 790.7C307.8 790.3 301.2 788.5 306.7 788.3C312.2 788.1 334 789.4 340 789.3C346 789.1 343.2 787.7 346.7 787.3C350.2 786.9 355.3 786.3 363.3 786.7C371.3 787.1 389 790 400 790C411 790 428.1 787 436.6 787C445.1 787 452 789.1 456.9 790C461.8 790.9 466.1 791.8 469.4 793C472.7 794.2 476.9 797.3 478.8 797.8C480.7 798.3 476.4 796.8 482 796.5C487.6 796.2 506.5 795.7 516.3 795.6C526.1 795.5 540 795.3 547.5 795.6C555 795.9 561.6 796.5 566.3 797.8C571 799.1 575 801 578.8 804C582.5 807 588.7 812.6 591.3 818C593.9 823.4 595.5 833 596 840C596.5 847 596 857.5 594.4 865C592.8 872.5 588.8 883.4 585 890C581.2 896.6 575 904.1 569.4 908.8C563.8 913.5 555.5 918.3 547.5 921.3C539.5 924.3 525.7 926.9 516.3 929C506.9 931.1 494.4 933.2 485 935.3C475.6 937.4 463.2 940.8 453.8 943C444.4 945.2 431.9 948.5 422.5 950C413.1 951.5 400.7 952.9 391.3 953C381.9 953.1 368.2 951.9 360 951C351.8 950.1 343 946.4 336.7 946.7C330.4 947 323.5 951.2 318 953C312.5 954.8 303.8 957.7 300 958.5C296.2 959.3 294.8 959 293 958.5C291.2 958 290.2 956 288 955.5C285.8 955 282.2 954.2 278 955C273.8 955.8 265.7 959.1 260 960.7C254.3 962.4 246.4 964.6 240 966C233.6 967.4 224.8 969.2 217 970C209.2 970.8 193.2 971.3 188.3 971.5C183.4 971.7 184.6 971.5 184 971.5L178 940L180 905Z" fill="#f9cbca" stroke="none" filter="url(#softp)"/>
<path d="M168 794L190 793L190 846L169 847Z" fill="#f9cbca" stroke="none" filter="url(#softL)"/>
<path d="M174 908L195 907L195 969L178 968L164 955L158 940L164 922Z" fill="#f9cbca" stroke="none" filter="url(#softL)"/>
<path d="M363.3 786.7C363.8 783.4 369.8 777.3 373.3 773.3C376.8 769.3 382.2 762.8 386.7 760C391.2 757.2 398.3 754.8 403.3 754.5C408.3 754.2 415.8 755.7 420 758C424.2 760.3 428.5 765.6 431 770C433.5 774.4 437.9 783.5 436.6 787C435.3 790.5 427.5 791.5 422.5 793.3C417.5 795.1 408.9 798.2 403.3 798.8C397.7 799.4 390 798.1 385 797.5C380 796.9 373.3 796.6 370 795C366.7 793.4 362.8 790 363.3 786.7Z" fill="#ab464a" stroke="none" />
<clipPath id="hC"><path d="M363.3 786.7C363.8 783.4 369.8 777.3 373.3 773.3C376.8 769.3 382.2 762.8 386.7 760C391.2 757.2 398.3 754.8 403.3 754.5C408.3 754.2 415.8 755.7 420 758C424.2 760.3 428.5 765.6 431 770C433.5 774.4 437.9 783.5 436.6 787C435.3 790.5 427.5 791.5 422.5 793.3C417.5 795.1 408.9 798.2 403.3 798.8C397.7 799.4 390 798.1 385 797.5C380 796.9 373.3 796.6 370 795C366.7 793.4 362.8 790 363.3 786.7Z"/></clipPath>
<g clip-path="url(#hC)" stroke="#3a0d10" stroke-width="1.3" stroke-linecap="round" fill="none">
<path d="M340 804L370 748M346 804L376 748M352 804L382 748M358 804L388 748M364 804L394 748M370 804L400 748M376 804L406 748M382 804L412 748M388 804L418 748M394 804L424 748M400 804L430 748M406 804L436 748M412 804L442 748M418 804L448 748M424 804L454 748M430 804L460 748M436 804L466 748"/>
</g>
<path d="M363.3 786.7C365 784.5 369.4 777.8 373.3 773.3C377.2 768.8 381.7 763.1 386.7 760C391.7 756.9 397.8 754.8 403.3 754.5C408.9 754.2 415.4 755.4 420 758C424.6 760.6 428.2 765.2 431 770C433.8 774.8 435.7 784.2 436.6 787" fill="none" stroke="#5a1c20" stroke-width="2.45" stroke-linecap="round" stroke-linejoin="round" />
<path d="M156 849L273.3 845L275 845C277.3 844.2 285.9 840.4 290.6 839.4C295.3 838.4 302.1 837.4 306.3 838C310.5 838.6 315.3 840.9 318.8 843.4C322.3 845.9 327.3 850.4 329.7 854.4C332.1 858.4 334.4 864.8 335 870C335.6 875.2 335.1 883.6 333.8 888.8C332.5 894 329.3 900.6 326.6 904.4C323.9 908.1 319.6 912.2 315.6 913.8C311.6 915.4 304.7 915.8 300 915.3C295.3 914.8 288.6 912.7 284.4 910.6C280.2 908.5 275.2 903.2 271.9 901.3C268.6 899.4 263.9 898.5 262.5 898L240 901.7L156 905Z" fill="#fff" stroke="none" />
<path d="M331.9 836.3C332.4 834.7 341.1 833.6 343.8 834C346.6 834.4 355.6 839.2 359.4 840.3C363.1 841.4 378.2 844.4 381.3 845C384.4 845.6 385 846.1 390.6 846.6C396.2 847.1 429.7 849.2 437.5 849.7C445.3 850.2 462.6 851.5 468.8 851.3C475.1 851.1 494.4 848.4 500 848C505.6 847.6 522.1 847.2 525 847.5C527.9 847.8 528.4 849.4 528.8 851.3C529.1 853.1 528.6 863.2 528.5 866C528.4 868.8 528.4 877.6 528 879.4C527.6 881.2 527.8 883.4 525 884C522.2 884.6 505.6 885.3 500 885.6C494.4 885.9 475.1 886.6 468.8 887.2C462.6 887.8 443.1 890.6 437.5 891.9C431.9 893.1 417.2 898.1 412.5 899.7C407.8 901.3 395 905.9 390.6 907.5C386.2 909.1 373.2 913.9 368.8 915.3C364.4 916.7 350.5 921.1 346.9 921.6C343.3 922.1 334.5 921.2 332.8 920.6C331.1 920 329.4 917.1 329.7 915.3C330 913.5 334.6 905.8 335.9 902.8C337.1 899.8 341.4 889.2 342.2 885.6C343 882 344.1 870.5 343.8 866.9C343.5 863.3 340.2 852.8 339 849.7C337.8 846.6 331.4 837.9 331.9 836.3Z" fill="#fff" stroke="none" />
<path d="M186.7 790.7C193.2 790.7 216.5 790.7 230 790.7C243.5 790.7 265.7 790.7 276.7 790.7C287.7 790.7 298.8 791.1 303.3 790.7C307.8 790.3 301.2 788.5 306.7 788.3C312.2 788.1 334 789.4 340 789.3C346 789.1 343.2 787.7 346.7 787.3C350.2 786.9 360.8 786.8 363.3 786.7" fill="none" stroke="#0a0a0a" stroke-width="2.65" stroke-linecap="round" stroke-linejoin="round" />
<path d="M436.6 787C439.6 787.5 452 789.1 456.9 790C461.8 790.9 466.1 791.8 469.4 793C472.7 794.2 476.9 797.3 478.8 797.8C480.7 798.3 476.4 796.8 482 796.5C487.6 796.2 506.5 795.7 516.3 795.6C526.1 795.5 540 795.3 547.5 795.6C555 795.9 561.6 796.5 566.3 797.8C571 799.1 575 801 578.8 804C582.5 807 588.7 812.6 591.3 818C593.9 823.4 595.5 833 596 840C596.5 847 596 857.5 594.4 865C592.8 872.5 588.8 883.4 585 890C581.2 896.6 575 904.1 569.4 908.8C563.8 913.5 555.5 918.3 547.5 921.3C539.5 924.3 525.7 926.9 516.3 929C506.9 931.1 494.4 933.2 485 935.3C475.6 937.4 463.2 940.8 453.8 943C444.4 945.2 431.9 948.5 422.5 950C413.1 951.5 400.7 952.9 391.3 953C381.9 953.1 368.2 951.9 360 951C351.8 950.1 343 946.4 336.7 946.7C330.4 947 323.5 951.2 318 953C312.5 954.8 303.8 957.7 300 958.5C296.2 959.3 294.8 959 293 958.5C291.2 958 288.8 956 288 955.5" fill="none" stroke="#0a0a0a" stroke-width="2.65" stroke-linecap="round" stroke-linejoin="round" />
<path d="M291 950.4C289.1 951.1 282.6 953.5 278 955C273.4 956.5 265.7 959.1 260 960.7C254.3 962.4 246.4 964.6 240 966C233.6 967.4 224.8 969.2 217 970C209.2 970.8 192.6 971.3 188.3 971.5" fill="none" stroke="#0a0a0a" stroke-width="2.65" stroke-linecap="round" stroke-linejoin="round" />
<path d="M278.3 791.7L283.3 796.7" fill="none" stroke="#0a0a0a" stroke-width="2.05" stroke-linecap="round" stroke-linejoin="round" />
<path d="M303.3 791.7C303.8 793.4 304.6 798.7 306 802C307.4 805.3 310.8 810.1 311.7 811.7" fill="none" stroke="#0a0a0a" stroke-width="2.05" stroke-linecap="round" stroke-linejoin="round" />
<path d="M343.3 790L345 806.7" fill="none" stroke="#0a0a0a" stroke-width="2.05" stroke-linecap="round" stroke-linejoin="round" />
<path d="M458.4 791.6L459.4 801" fill="none" stroke="#0a0a0a" stroke-width="2.05" stroke-linecap="round" stroke-linejoin="round" />
<path d="M181.7 848.3L273.3 845L275 845C277.3 844.2 285.9 840.4 290.6 839.4C295.3 838.4 302.1 837.4 306.3 838C310.5 838.6 315.3 840.9 318.8 843.4C322.3 845.9 327.3 850.4 329.7 854.4C332.1 858.4 334.4 864.8 335 870C335.6 875.2 335.1 883.6 333.8 888.8C332.5 894 329.3 900.6 326.6 904.4C323.9 908.1 319.6 912.2 315.6 913.8C311.6 915.4 304.7 915.8 300 915.3C295.3 914.8 288.6 912.7 284.4 910.6C280.2 908.5 275.2 903.2 271.9 901.3C268.6 899.4 263.9 898.5 262.5 898L240 901.7L178.3 904.3" fill="none" stroke="#0a0a0a" stroke-width="2.45" stroke-linecap="round" stroke-linejoin="round" />
<path d="M198.3 856C205.2 855.5 226.4 854 240 853C253.6 852 270.7 850.5 280 850C289.3 849.5 292 849.3 296 850C300 850.7 302.7 853.3 304 854" fill="none" stroke="#0a0a0a" stroke-width="1.75" stroke-linecap="round" stroke-linejoin="round" />
<path d="M190 895.7C200.6 895.3 240.3 893.4 253.3 893.3C266.3 893.2 263.6 893.4 268 895C272.4 896.6 275.3 900.5 280 903C284.7 905.5 293.3 908.8 296 910" fill="none" stroke="#0a0a0a" stroke-width="1.75" stroke-linecap="round" stroke-linejoin="round" />
<path d="M300 913C302 912.2 308.7 910.5 312 908C315.3 905.5 318.7 899.7 320 898" fill="none" stroke="#0a0a0a" stroke-width="1.4" stroke-linecap="round" stroke-linejoin="round" />
<path d="M306 851C307 850.2 310 845.8 312 846C314 846.2 317 851 318 852" fill="none" stroke="#0a0a0a" stroke-width="1.4" stroke-linecap="round" stroke-linejoin="round" />
<path d="M331.9 836.3C333.2 836 340.8 833.6 343.8 834C346.8 834.4 355.3 839.1 359.4 840.3C363.5 841.5 377.9 844.3 381.3 845C384.7 845.7 384.4 846.1 390.6 846.6C396.8 847.1 428.9 849.2 437.5 849.7C446.1 850.2 461.9 851.5 468.8 851.3C475.7 851.1 493.8 848.4 500 848C506.2 847.6 521.8 847.1 525 847.5C528.2 847.9 528.4 849.3 528.8 851.3C529.2 853.3 528.6 862.9 528.5 866C528.4 869.1 528.4 877.4 528 879.4C527.6 881.4 528.1 883.3 525 884C521.9 884.7 506.2 885.2 500 885.6C493.8 886 475.7 886.5 468.8 887.2C461.9 887.9 443.7 890.5 437.5 891.9C431.3 893.3 417.7 898 412.5 899.7C407.3 901.4 395.4 905.8 390.6 907.5C385.8 909.2 373.6 913.7 368.8 915.3C364 916.9 350.9 921 346.9 921.6C342.9 922.2 334.7 921.3 332.8 920.6C330.9 919.9 329.4 917.3 329.7 915.3C330 913.3 334.5 906.1 335.9 902.8C337.3 899.5 341.3 889.5 342.2 885.6C343.1 881.7 344.2 870.8 343.8 866.9C343.4 863 340.3 853.1 339 849.7C337.7 846.3 332.7 837.8 331.9 836.3" fill="none" stroke="#0a0a0a" stroke-width="2.45" stroke-linecap="round" stroke-linejoin="round" />
<path d="M346.9 841.3C349.1 841.7 355.3 842.9 360 843.5C364.7 844.1 372.5 844.8 375 845" fill="none" stroke="#0a0a0a" stroke-width="1.6" stroke-linecap="round" stroke-linejoin="round" />
<path d="M346.9 841.3C346.6 842.4 344.6 845.2 345 848C345.4 850.8 348.3 856.3 349 858" fill="none" stroke="#0a0a0a" stroke-width="1.6" stroke-linecap="round" stroke-linejoin="round" />
<path d="M340.6 907.5C341.1 908.8 340.7 914.2 343.8 915.3C346.9 916.3 353.1 915.3 359.4 913.8C365.6 912.2 377.6 907.3 381.3 906" fill="none" stroke="#0a0a0a" stroke-width="1.6" stroke-linecap="round" stroke-linejoin="round" />
<path d="M395.3 846.6L395.3 860.6L526 860" fill="none" stroke="#0a0a0a" stroke-width="1.85" stroke-linecap="round" stroke-linejoin="round" />
<path d="M403.2 798.5L403.1 883" fill="none" stroke="#0a0a0a" stroke-width="2.05" stroke-linecap="round" stroke-linejoin="round" />
<path d="M317.2 884C325.9 884 362.1 884.3 375 884C387.9 883.7 388.9 882.6 403 881.9C417.1 881.2 450.5 880.5 468.8 879.4C487.1 878.3 512.8 876.4 525 874.7C537.2 873.1 544.3 871.3 550 868.4C555.7 865.5 558.7 860.3 563 855.6C567.3 850.9 575.3 842.7 578.8 836.9C582.3 831.1 585.4 820 586.6 817" fill="none" stroke="#0a0a0a" stroke-width="2.05" stroke-linecap="round" stroke-linejoin="round" />
<path d="M392 811.3Q402.2 812.8 412.5 808.8" fill="none" stroke="#0a0a0a" stroke-width="5.6" stroke-linecap="round" stroke-linejoin="round" />
<path d="M393.1 830.6Q401.8 832.1 410.5 828.1" fill="none" stroke="#0a0a0a" stroke-width="5.6" stroke-linecap="round" stroke-linejoin="round" />
<path d="M389 852.5Q399.8 854 410.5 850" fill="none" stroke="#0a0a0a" stroke-width="5.6" stroke-linecap="round" stroke-linejoin="round" />
<path d="M390 868Q401 869.5 412 865.5" fill="none" stroke="#0a0a0a" stroke-width="5.6" stroke-linecap="round" stroke-linejoin="round" />
<path d="M368.2 875.5Q376.9 885.5 368.2 895.5" fill="none" stroke="#0a0a0a" stroke-width="5.4" stroke-linecap="round" stroke-linejoin="round" />
<path d="M424.4 876.3Q420.1 881.9 424.4 887.5" fill="none" stroke="#0a0a0a" stroke-width="5.4" stroke-linecap="round" stroke-linejoin="round" />
<path d="M457.4 874.1Q453 878.6 457.4 883.1" fill="none" stroke="#0a0a0a" stroke-width="5.4" stroke-linecap="round" stroke-linejoin="round" />
<path d="M489.1 870.9Q484.7 877 489.1 883.1" fill="none" stroke="#0a0a0a" stroke-width="5.4" stroke-linecap="round" stroke-linejoin="round" />
<path d="M512.5 868.8Q512.5 876.8 512.5 884.7" fill="none" stroke="#0a0a0a" stroke-width="5.4" stroke-linecap="round" stroke-linejoin="round" />
<path d="M535.9 866.3Q540.2 873.1 535.9 880" fill="none" stroke="#0a0a0a" stroke-width="5.4" stroke-linecap="round" stroke-linejoin="round" />
<path d="M554.8 854.3L564.5 860.8" fill="none" stroke="#0a0a0a" stroke-width="5.6" stroke-linecap="round" stroke-linejoin="round" />
<path d="M570.8 834.6L582 844.8" fill="none" stroke="#0a0a0a" stroke-width="5.8" stroke-linecap="round" stroke-linejoin="round" />
<path d="M480.3 797.8C482.1 800.1 486.4 807.7 491.3 811.9C496.2 816.1 502.7 819.4 510 822.8C517.3 826.2 527.5 829.9 535 832.2C542.5 834.6 551.9 836.1 555.3 836.9" fill="none" stroke="#0a0a0a" stroke-width="2.25" stroke-linecap="round" stroke-linejoin="round" />
<path d="M566.3 800.5L555.3 836" fill="none" stroke="#0a0a0a" stroke-width="2.05" stroke-linecap="round" stroke-linejoin="round" />
<path d="M497.5 810.3L560 814.4" fill="none" stroke="#0a0a0a" stroke-width="1.9" stroke-linecap="round" stroke-linejoin="round" />
<path d="M506.9 816.6L555.3 819.7" fill="none" stroke="#0a0a0a" stroke-width="1.7" stroke-linecap="round" stroke-linejoin="round" />
<text class="lbl" x="176" y="950">c.</text>
<!-- /ART -->
</svg>
<div id="cap">
<span id="l1" style="letter-spacing:1.097px">Tsuge's method -</span>
<span id="l2" style="letter-spacing:0.852px">a. Mid-lateral incision to the end of the finger. The volar part of</span>
<span id="l3" style="letter-spacing:0.831px">the distal phalanx and the dorsal part of the middle phalanx are</span>
<span id="l4" style="letter-spacing:1.179px">removed.</span>
<span id="l5" style="letter-spacing:0.708px">b. Excess volar skin and soft tissues are removed</span>
<span id="l6" style="letter-spacing:0.708px">c. The dorsal part of the distal phalanx and nail are recessed to fit</span>
<span id="l7" style="letter-spacing:0.805px">the middle phalanx. The remaining excess dorsal soft tissue can be</span>
<span id="l8" style="letter-spacing:1.252px">removed later.</span>
</div>
</body>
</html>
